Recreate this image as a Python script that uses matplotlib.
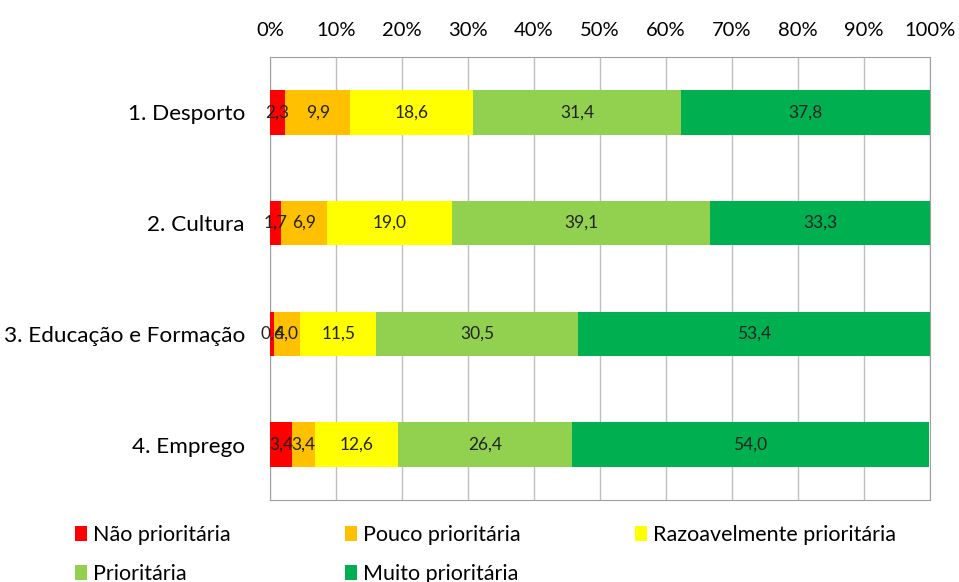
import numpy as np
import matplotlib.pyplot as plt
from matplotlib.ticker import FuncFormatter

plt.rcParams['font.family'] = ['Lato', 'DejaVu Sans']

# Data

categories = [
    "1. Desporto",
    "2. Cultura",
    "3. Educação e Formação",
    "4. Emprego"
]

series_names = [
    "Não prioritária",
    "Pouco prioritária",
    "Razoavelmente prioritária",
    "Prioritária",
    "Muito prioritária"
]

nao = [2.3, 1.7, 0.6, 3.4]
pouco = [9.9, 6.9, 4.0, 3.4]
razoavel = [18.6, 19.0, 11.5, 12.6]
prioritaria = [31.4, 39.1, 30.5, 26.4]
muito = [37.8, 33.3, 53.4, 54.0]

colors = ["#FF0000", "#FFC000", "#FFFF00", "#92D050", "#00B050"]

series = [nao, pouco, razoavel, prioritaria, muito]

# Figure

fig = plt.figure(figsize=(9.59, 5.82), dpi=100)
ax = fig.add_axes([0.2815, 0.141, 0.6883, 0.761])

y = np.arange(len(categories))
left = np.zeros(len(categories))

for name, vals, col in zip(series_names, series, colors):

    vals = np.array(vals)

    bars = ax.barh(
        y,
        vals,
        left=left,
        height=0.4,
        color=col,
        label=name,
        zorder=3
    )

    ax.bar_label(
        bars,
        labels=[f"{v:.1f}".replace(".", ",") for v in vals],
        label_type="center",
        fontsize=12.5,
        color="#222222",
        zorder=4
    )

    left = left + vals

ax.set_xlim(0, 100)
ax.set_ylim(len(categories) - 0.5, -0.5)
ax.set_yticks(y)
ax.set_yticklabels(categories, fontsize=16.2)
ax.set_xticks(np.arange(0, 101, 10))
ax.xaxis.set_major_formatter(FuncFormatter(lambda v, p: f"{int(v)}%"))
ax.xaxis.tick_top()
ax.tick_params(axis="x", labelsize=14.5, length=0, pad=13)
ax.tick_params(axis="y", length=0, pad=18)
ax.grid(axis="x", color="#BFBFBF", linewidth=1, zorder=0)

for side in ["top", "bottom", "right", "left"]:
    ax.spines[side].set_color("#A0A0A0")

# Legend, row-wise order
handles, labels = ax.get_legend_handles_labels()
order = [0, 3, 1, 4, 2]

fig.legend(
    [handles[i] for i in order],
    [labels[i] for i in order],
    loc="lower left",
    bbox_to_anchor=(0.058, -0.036),
    ncol=3,
    frameon=False,
    fontsize=15.5,
    handlelength=0.55,
    handleheight=0.7,
    handletextpad=0.3,
    columnspacing=5.3,
    labelspacing=0.85
)

fig.savefig("out.png", dpi=100)
